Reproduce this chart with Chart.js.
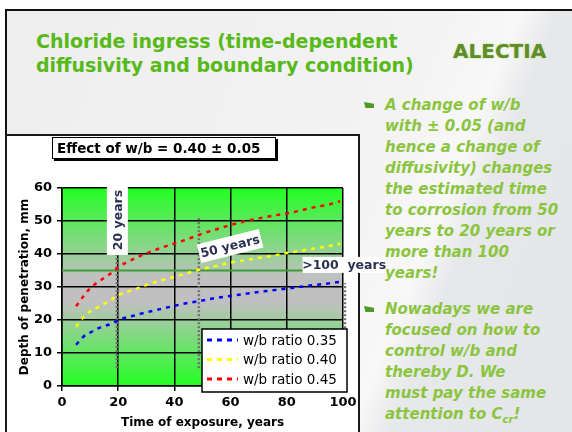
<!DOCTYPE html>
<html>
<head>
<meta charset="utf-8">
<script src="https://cdn.jsdelivr.net/npm/chart.js@4.4.1/dist/chart.umd.min.js"></script>
<style>
  html, body { margin: 0; padding: 0; background: #fff; }
  body { width: 572px; height: 432px; position: relative; overflow: hidden; font-family: "DejaVu Sans", sans-serif; }
  #slide {
    position: absolute; left: 5px; top: 9px; width: 600px; height: 440px;
    border-top: 2px solid #111; border-left: 2px solid #111;
    background: linear-gradient(112deg, #eeeeef 0%, #f3f3f3 55%, #f8f8f8 66%, #e7e8ea 71%, #e4e5e8 100%);
  }
  #title {
    position: absolute; left: 36px; top: 29px; font-weight: bold; font-size: 19px;
    line-height: 24px; color: #58b91a; white-space: nowrap;
  }
  #logo {
    position: absolute; left: 453px; top: 41px; font-weight: bold; font-size: 20px;
    line-height: 20px; color: #5f8c2c; text-shadow: 0 0 2px #a8d46a;
  }
  .bullet {
    position: absolute; left: 385px; font-weight: bold; font-style: italic; font-size: 15px;
    line-height: 21px; color: #8bc53f; white-space: nowrap;
  }
  .mark {
    position: absolute; left: 364px; width: 10px; height: 6px; background: #4e9a28;
    clip-path: polygon(0 0, 100% 30%, 100% 100%, 15% 100%);
  }
  #frame {
    position: absolute; left: 5px; top: 134px; width: 351px; height: 310px;
    background: #fff; border: 2px solid #1a1a1a;
  }
  #chartTitle {
    position: absolute; left: 52px; top: 137px; width: 218px; height: 20px;
    background: #fff; border: 1.5px solid #000; box-shadow: 2px 2px 0 #000;
    font-weight: bold; font-size: 13.5px; line-height: 20px; padding-left: 4px; white-space: nowrap;
  }
  #c { position: absolute; left: 7px; top: 136px; }
</style>
</head>
<body>
<div id="slide"></div>
<div id="title">Chloride ingress (time-dependent<br>diffusivity and boundary condition)</div>
<div id="logo">ALECTIA</div>
<div class="mark" style="top:102px"></div>
<div class="bullet" style="top:95px">A change of w/b<br>with ± 0.05 (and<br>hence a change of<br>diffusivity) changes<br>the estimated time<br>to corrosion from 50<br>years to 20 years or<br>more than 100<br>years!</div>
<div class="mark" style="top:306px"></div>
<div class="bullet" style="top:299px">Nowadays we are<br>focused on how to<br>control w/b and<br>thereby D. We<br>must pay the same<br>attention to C<sub style="font-size:10px;line-height:0">cr</sub>!</div>
<div id="frame"></div>
<canvas id="c" width="393" height="296"></canvas>
<div id="chartTitle">Effect of w/b = 0.40 ± 0.05</div>
<script>
// data
const timeYears = [5, 8, 10, 14, 18, 20, 25, 30, 35, 40, 45, 50, 55, 60, 65, 70, 75, 80, 85, 90, 95, 99];
const depth035 = [12.5, 15.2, 16.2, 17.9, 19.0, 20.0, 21.2, 22.3, 23.3, 24.3, 25.2, 25.9, 26.7, 27.3, 27.9, 28.5, 29.0, 29.5, 30.1, 30.6, 31.1, 31.6];
const depth040 = [18.0, 21.2, 22.6, 24.4, 26.4, 27.5, 29.0, 30.6, 31.9, 33.1, 34.3, 35.5, 36.4, 37.4, 38.1, 38.8, 39.5, 40.3, 41.0, 41.7, 42.4, 43.1];
const depth045 = [24.2, 27.6, 29.6, 32.2, 34.5, 36.0, 38.3, 40.2, 41.8, 43.2, 44.6, 46.2, 47.5, 48.8, 49.9, 50.8, 51.6, 52.3, 53.2, 54.2, 55.0, 56.0];
const seriesLabels = ["w/b ratio 0.35", "w/b ratio 0.40", "w/b ratio 0.45"];
const seriesColors = ["#0000ff", "#ffff00", "#ff0000"];

const criticalDepth = 35;
const markerYears = [19.5, 48.7, 100.7];
const markerTop = [40.3, 51.2, 31.2];
const markerBottom = 5.4;
const markerLabels = ["20 years", "50 years", ">100  years"];

const toPts = (ys) => timeYears.map((t, i) => ({ x: t, y: ys[i] }));

const seriesSets = [depth035, depth040, depth045].map((ys, i) => ({
  label: seriesLabels[i],
  data: toPts(ys),
  borderColor: seriesColors[i],
  borderWidth: 2.5,
  borderDash: [4, 5],
  pointRadius: 0,
  cubicInterpolationMode: "monotone",
  inLegend: true,
}));

const markerSets = markerYears.map((yr, i) => ({
  label: markerLabels[i],
  data: [{ x: yr, y: markerBottom }, { x: yr, y: markerTop[i] }],
  borderColor: "#6f6f6f",
  borderWidth: 2.5,
  borderDash: [2, 2],
  pointRadius: 0,
  clip: false,
}));

const thresholdSet = {
  label: "critical depth",
  data: [{ x: 0, y: criticalDepth }, { x: 100, y: criticalDepth }],
  borderColor: "#3f9c3a",
  borderWidth: 2,
  pointRadius: 0,
};

// plot background: green - grey - green
const bgPlugin = {
  id: "bg",
  beforeDraw(chart) {
    const { ctx, chartArea: a } = chart;
    const g = ctx.createLinearGradient(0, a.top, 0, a.bottom);
    g.addColorStop(0, "#22ff22");
    g.addColorStop(0.45, "#c0c0c0");
    g.addColorStop(0.58, "#c0c0c0");
    g.addColorStop(1, "#22ff22");
    ctx.save();
    ctx.fillStyle = g;
    ctx.fillRect(a.left, a.top, a.right - a.left, a.bottom - a.top);
    ctx.restore();
  },
};

function labelBox(ctx, text, cx, cy, w, h, angle) {
  ctx.save();
  ctx.translate(cx, cy);
  ctx.rotate(angle);
  ctx.fillStyle = "#fff";
  ctx.fillRect(-w / 2, -h / 2, w, h);
  ctx.fillStyle = "#2b3150";
  ctx.font = "bold 12.5px 'DejaVu Sans'";
  ctx.textAlign = "center";
  ctx.textBaseline = "middle";
  ctx.fillText(text, 0, 1);
  ctx.restore();
}

const notesPlugin = {
  id: "notes",
  afterDatasetsDraw(chart) {
    const { ctx, scales: { x, y }, chartArea: a } = chart;
    labelBox(ctx, markerLabels[0], x.getPixelForValue(19.7), y.getPixelForValue(50.3), 70, 21, -Math.PI / 2);
    labelBox(ctx, markerLabels[1], x.getPixelForValue(59.8), y.getPixelForValue(42.4), 64, 19, -14 * Math.PI / 180);
    labelBox(ctx, markerLabels[2], x.getPixelForValue(100.4), y.getPixelForValue(36.7), 83, 16, 0);

    // legend box
    const items = chart.data.datasets.filter((d) => d.inLegend);
    const L = a.right - 141, R = a.right + 4, T = a.bottom - 57, B = a.bottom + 6;
    ctx.save();
    ctx.fillStyle = "#fff";
    ctx.fillRect(L, T, R - L, B - T);
    ctx.strokeStyle = "#000";
    ctx.lineWidth = 1.5;
    ctx.strokeRect(L, T, R - L, B - T);
    ctx.font = "13.5px 'DejaVu Sans'";
    ctx.textBaseline = "middle";
    items.forEach((d, i) => {
      const yy = T + 11 + i * 19.5;
      ctx.strokeStyle = d.borderColor;
      ctx.lineWidth = 3;
      ctx.setLineDash([5, 5]);
      ctx.beginPath();
      ctx.moveTo(L + 5, yy);
      ctx.lineTo(L + 36, yy);
      ctx.stroke();
      ctx.setLineDash([]);
      ctx.fillStyle = "#000";
      ctx.fillText(d.label, L + 41, yy + 1);
    });
    ctx.restore();
  },
};

new Chart(document.getElementById("c"), {
  type: "line",
  data: { datasets: [...seriesSets, ...markerSets, thresholdSet] },
  options: {
    responsive: false,
    animation: false,
    layout: { padding: { left: 0, right: 57, top: 52, bottom: 0 } },
    plugins: { legend: { display: false }, tooltip: { enabled: false } },
    scales: {
      x: {
        type: "linear",
        min: 0,
        max: 100,
        afterFit: (s) => { s.height = 46; },
        ticks: { stepSize: 20, color: "#000", padding: 4, font: { family: "DejaVu Sans", weight: "bold", size: 13 } },
        grid: { color: "#000", lineWidth: 1.5, tickLength: 5, tickColor: "#000" },
        border: { color: "#000", width: 1.5 },
        title: { display: true, text: "Time of exposure, years", color: "#000", padding: { top: 0, bottom: 2 }, font: { family: "DejaVu Sans", weight: "bold", size: 12 } },
      },
      y: {
        min: 0,
        max: 60,
        afterFit: (s) => { s.width = 55; },
        ticks: { stepSize: 10, color: "#000", padding: 5, font: { family: "DejaVu Sans", weight: "bold", size: 13 } },
        grid: { color: "#000", lineWidth: 1.5, tickLength: 5, tickColor: "#000" },
        border: { color: "#000", width: 1.5 },
        title: { display: true, text: "Depth of penetration, mm", color: "#000", padding: { top: 11, bottom: 0 }, font: { family: "DejaVu Sans", weight: "bold", size: 12 } },
      },
    },
  },
  plugins: [bgPlugin, notesPlugin],
});
</script>
</body>
</html>
